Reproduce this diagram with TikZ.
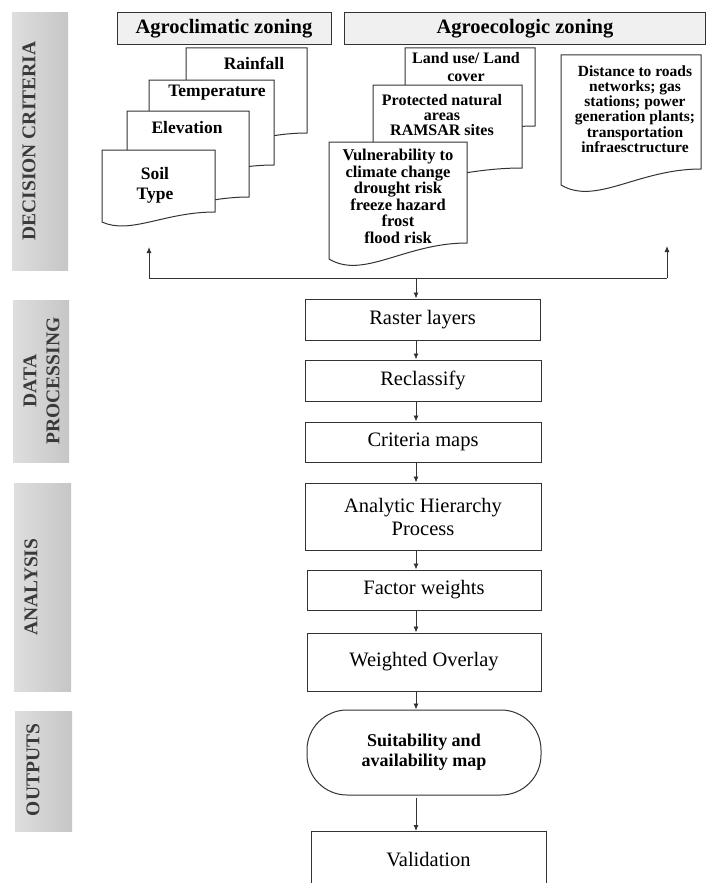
\documentclass[tikz,border=0pt]{standalone}
\usepackage{fontspec}
\setmainfont{Liberation Serif}
\usetikzlibrary{arrows.meta}
\definecolor{linec}{HTML}{333333}
\definecolor{barL}{HTML}{DEDEDE}
\definecolor{barR}{HTML}{C6C6C6}
\definecolor{headf}{HTML}{F0F0F0}
\definecolor{sidetxt}{HTML}{3A3A3A}
\newcommand\docshape[5]{%
  \draw[docline] (#1,#2) -- (#3,#2) -- (#3,#4)
    .. controls ({#3-0.45*(#3-#1)},#4) and ({#1+0.25*(#3-#1)},{#4+2.3*#5}) .. (#1,{#4+#5}) -- cycle;}
\tikzset{
  docline/.style={draw=linec,line width=1pt,fill=white},
  sidebar/.style={left color=barL,right color=barR,draw=none},
  sidelabel/.style={rotate=90,text=sidetxt,font=\fontsize{19.5}{23}\selectfont\bfseries,align=center,inner sep=0pt},
  header/.style={draw=linec,line width=1pt,fill=headf,inner sep=0pt,font=\fontsize{20.5}{23}\selectfont\bfseries},
  doctext/.style={align=center,inner sep=0pt,font=\fontsize{16.5}{16.5}\selectfont\bfseries},
  bigdoctext/.style={align=center,inner sep=0pt,font=\fontsize{17.5}{20}\selectfont\bfseries},
  procbox/.style={draw=linec,line width=1pt,fill=white,inner sep=0pt,align=center,font=\fontsize{20.5}{23}\selectfont},
  arr/.style={draw=linec,line width=0.9pt,-{Latex[length=6pt,width=5pt]}},
  plain/.style={draw=linec,line width=0.9pt}
}
\begin{document}
\begin{tikzpicture}[x=1pt,y=-1pt]
\path[use as bounding box] (0,0) rectangle (707,883);
\clip (0,0) rectangle (707,883);
% side bars
\fill[sidebar] (12,13) rectangle (68,270);
\fill[sidebar] (13,300) rectangle (69,462);
\fill[sidebar] (14,483) rectangle (71,691);
\fill[sidebar] (15,711) rectangle (72,831);
\node[sidelabel] (lbldc) at (29,141) {DECISION CRITERIA};
\node[sidelabel] (lbldp) at (41.5,381) {DATA\\PROCESSING};
\node[sidelabel] (lblan) at (31,587) {ANALYSIS};
\node[sidelabel] (lblout) at (33,770) {OUTPUTS};
% headers
\node[header,minimum width=214pt,minimum height=32pt] (hclim) at (224,29) {Agroclimatic zoning};
\node[header,minimum width=361pt,minimum height=32pt] (heco) at (525,29) {Agroecologic zoning};
% agroclimatic documents
\docshape{186}{48}{307}{133}{10}
\node[bigdoctext] (rain) at (254,63) {Rainfall};
\docshape{149}{80}{274}{165}{10}
\node[bigdoctext] (temp) at (217,93) {Temperature};
\docshape{127}{111}{249}{197}{10}
\node[bigdoctext] (elev) at (187,128) {Elevation};
\docshape{102}{150}{215}{212}{10}
\node[bigdoctext] (soil) at (155,185) {Soil\\Type};
% agroecologic documents
\docshape{405}{48}{535}{126}{10}
\node[doctext,font=\fontsize{16}{17.5}\selectfont\bfseries] (land) at (466,67) {Land use/ Land\\cover};
\docshape{373}{85}{522}{168}{10}
\node[doctext,font=\fontsize{16}{15}\selectfont\bfseries] (prot) at (442,115) {Protected natural\\areas\\RAMSAR sites};
\docshape{329}{142}{467}{243}{16}
\node[doctext] (vuln) at (398,196.5) {Vulnerability to\\climate change\\drought risk\\freeze hazard\\frost\\flood risk};
\docshape{561}{55}{701}{169}{16}
\node[doctext,font=\fontsize{15.5}{15.3}\selectfont\bfseries] (dist) at (635,109) {Distance to roads\\networks; gas\\stations; power\\generation plants;\\transportation\\infraesctructure};
% process boxes
\node[procbox,minimum width=235pt,minimum height=41pt] (raster) at (422.5,319.5) {Raster layers};
\node[procbox,minimum width=236pt,minimum height=41pt] (reclass) at (423,380.5) {Reclassify};
\node[procbox,minimum width=236pt,minimum height=40pt] (crit) at (423,442) {Criteria maps};
\node[procbox,minimum width=236pt,minimum height=67pt] (ahp) at (423,516.5) {Analytic Hierarchy\\Process};
\node[procbox,minimum width=234pt,minimum height=40pt] (fw) at (424,590) {Factor weights};
\node[procbox,minimum width=234pt,minimum height=58pt] (wo) at (424,662) {Weighted Overlay};
\node[procbox,minimum width=234pt,minimum height=85pt,rounded corners=40pt,font=\fontsize{18}{20}\selectfont\bfseries] (suit) at (424,752.5) {Suitability and\\availability map};
\node[procbox,minimum width=235pt,minimum height=70pt,anchor=north] (valid) at (428.5,831) {};
\node[inner sep=0pt,font=\fontsize{20.5}{23}\selectfont] (validtxt) at (428.5,860) {Validation};
% connectors
\coordinate (ax) at (416,0);
\coordinate (hubL) at (149,278);
\coordinate (hubR) at (667,278);
\coordinate (hubC) at (416,278);
\coordinate (soilin) at (149,247);
\coordinate (distin) at (667,246);
\draw[plain] (hubL) -- (hubR);
\draw[arr] (hubL) -- (soilin);
\draw[arr] (hubR) -- (distin);
\draw[arr] (hubC) -- (raster.north -| ax);
\draw[arr] (raster.south -| ax) -- (reclass.north -| ax);
\draw[arr] (reclass.south -| ax) -- (crit.north -| ax);
\draw[arr] (crit.south -| ax) -- (ahp.north -| ax);
\draw[arr] (ahp.south -| ax) -- (fw.north -| ax);
\draw[arr] (fw.south -| ax) -- (wo.north -| ax);
\draw[arr] (wo.south -| ax) -- (suit.north -| ax);
\draw[arr] ([yshift=-2pt]suit.south -| ax) -- (valid.north -| ax);
\end{tikzpicture}
\end{document}
